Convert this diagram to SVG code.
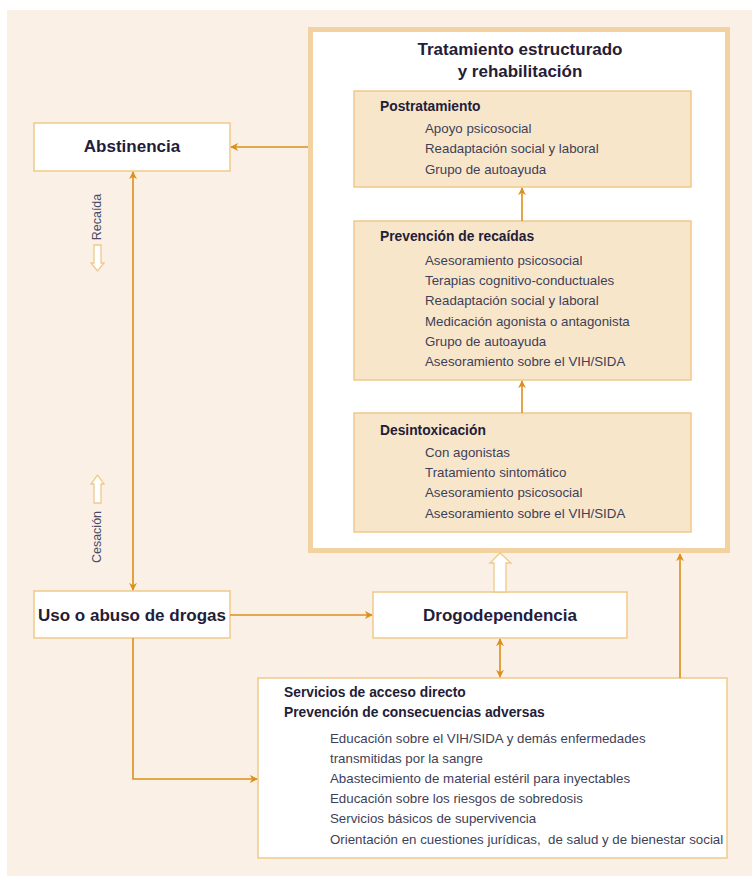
<svg xmlns="http://www.w3.org/2000/svg" width="752" height="876" viewBox="0 0 752 876">
<defs>
<style>
.bg{fill:#faf0e6}
.wbox{fill:#ffffff;stroke:#f0c98a;stroke-width:1.5}
.ibox{fill:#f8e6cb;stroke:#f0c98a;stroke-width:1.5}
.big{fill:#ffffff;stroke:#f2d2a0;stroke-width:5}
.ln{fill:none;stroke:#dc8f1a;stroke-width:1.6}
.hol{fill:#ffffff;stroke:#f0c98a;stroke-width:1.3}
text{font-family:"Liberation Sans",Arial,sans-serif}
.h1{font-size:17px;font-weight:bold;fill:#1f2038}
.hn{font-size:17px;font-weight:bold;fill:#1f2038}
.h2{font-size:13.8px;font-weight:bold;fill:#1f2038}
.it{font-size:13.3px;fill:#3e3f58}
.rot{font-size:12.5px;fill:#4a4c66}
</style>
<marker id="ah" viewBox="0 0 10 10" refX="9" refY="5" markerWidth="8" markerHeight="8" markerUnits="userSpaceOnUse" orient="auto-start-reverse">
<path d="M0,0 L10,5 L0,10 L3,5 Z" fill="#dc8f1a"/>
</marker>
</defs>
<rect class="bg" x="7" y="10" width="745" height="866"/>

<g id="tratamiento">
<rect class="big" x="310.5" y="29.5" width="417" height="521"/>
<text class="h1" x="520" y="55" text-anchor="middle">Tratamiento estructurado</text>
<text class="h1" x="520" y="77" text-anchor="middle">y rehabilitación</text>
</g>

<g id="postratamiento">
<rect class="ibox" x="354" y="91" width="337" height="96"/>
<text class="h2" x="380" y="111">Postratamiento</text>
<text class="it" x="425" y="133">Apoyo psicosocial</text>
<text class="it" x="425" y="153">Readaptación social y laboral</text>
<text class="it" x="425" y="174">Grupo de autoayuda</text>
</g>

<g id="prevencion">
<rect class="ibox" x="354" y="221" width="337" height="159"/>
<text class="h2" x="380" y="241">Prevención de recaídas</text>
<text class="it" x="425" y="265">Asesoramiento psicosocial</text>
<text class="it" x="425" y="285">Terapias cognitivo-conductuales</text>
<text class="it" x="425" y="305">Readaptación social y laboral</text>
<text class="it" x="425" y="326">Medicación agonista o antagonista</text>
<text class="it" x="425" y="346">Grupo de autoayuda</text>
<text class="it" x="425" y="366">Asesoramiento sobre el VIH/SIDA</text>
</g>

<g id="desintoxicacion">
<rect class="ibox" x="354" y="413" width="337" height="119"/>
<text class="h2" x="380" y="435">Desintoxicación</text>
<text class="it" x="425" y="457">Con agonistas</text>
<text class="it" x="425" y="477">Tratamiento sintomático</text>
<text class="it" x="425" y="497">Asesoramiento psicosocial</text>
<text class="it" x="425" y="518">Asesoramiento sobre el VIH/SIDA</text>
</g>

<g id="abstinencia">
<rect class="wbox" x="34" y="123" width="196" height="48"/>
<text class="hn" x="132" y="152" text-anchor="middle">Abstinencia</text>
</g>

<g id="uso">
<rect class="wbox" x="34" y="591" width="196" height="47"/>
<text class="hn" x="132" y="621" text-anchor="middle">Uso o abuso de drogas</text>
</g>

<g id="drogodependencia">
<rect class="wbox" x="373" y="592" width="254" height="46"/>
<text class="hn" x="500" y="621" text-anchor="middle">Drogodependencia</text>
</g>

<g id="servicios">
<rect class="wbox" x="258" y="678" width="469" height="180"/>
<text class="h2" x="284" y="697">Servicios de acceso directo</text>
<text class="h2" x="284" y="717">Prevención de consecuencias adversas</text>
<text class="it" x="330" y="743">Educación sobre el VIH/SIDA y demás enfermedades</text>
<text class="it" x="330" y="763">transmitidas por la sangre</text>
<text class="it" x="330" y="783">Abastecimiento de material estéril para inyectables</text>
<text class="it" x="330" y="803">Educación sobre los riesgos de sobredosis</text>
<text class="it" x="330" y="823">Servicios básicos de supervivencia</text>
<text class="it" x="330" y="844" xml:space="preserve">Orientación en cuestiones jurídicas,  de salud y de bienestar social</text>
</g>

<g id="labels">
<text class="rot" transform="translate(101,217) rotate(-90)" text-anchor="middle">Recaída</text>
<path class="hol" d="M94,245 L101,245 L101,263 L104,263 L97.5,271 L91,263 L94,263 Z"/>
<text class="rot" transform="translate(101,537) rotate(-90)" text-anchor="middle">Cesación</text>
<path class="hol" d="M94,503 L101,503 L101,484 L104,484 L97.5,475 L91,484 L94,484 Z"/>
</g>

<g id="connectors">
<line class="ln" x1="522" y1="221" x2="522" y2="188" marker-end="url(#ah)"/>
<line class="ln" x1="522" y1="413" x2="522" y2="381" marker-end="url(#ah)"/>
<line class="ln" x1="308" y1="147" x2="231" y2="147" marker-end="url(#ah)"/>
<line class="ln" x1="133" y1="172" x2="133" y2="590" marker-start="url(#ah)" marker-end="url(#ah)"/>
<line class="ln" x1="230" y1="615" x2="372" y2="615" marker-end="url(#ah)"/>
<line class="ln" x1="500" y1="639" x2="500" y2="677" marker-start="url(#ah)" marker-end="url(#ah)"/>
<line class="ln" x1="680" y1="678" x2="680" y2="554" marker-end="url(#ah)"/>
<polyline class="ln" points="133,638 133,779 257,779" marker-end="url(#ah)"/>
<path d="M494,592 L494,563 L490,563 L500,553 L511,563 L506,563 L506,592 Z" fill="#ffffff" stroke="#f0c98a" stroke-width="1.3"/>
</g>
</svg>
